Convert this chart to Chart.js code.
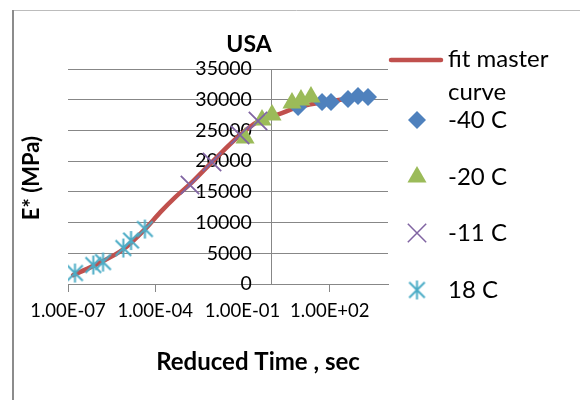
<!DOCTYPE html>
<html>
<head>
<meta charset="utf-8">
<script src="https://cdn.jsdelivr.net/npm/chart.js@4/dist/chart.umd.min.js"></script>
<style>
  html, body { margin: 0; padding: 0; background: #ffffff; }
  #wrap { width: 580px; height: 400px; }
</style>
</head>
<body>
<div id="wrap"><canvas id="c" width="580" height="400"></canvas></div>
<script>
// Texts
const chartTitle = 'USA';
const xAxisTitle = 'Reduced Time , sec';
const yAxisTitle = 'E* (MPa)';

// Axis ticks
const xTickValues = [1e-7, 1e-4, 1e-1, 1e2];
const yTickStep = 5000;
const yAxisCrossesAt = 1;       // vertical axis drawn at t = 1 s
const yLabelAnchor = 0.21;      // right edge of the vertical axis labels

// Fitted master curve (reduced time in s, |E*| in MPa)
const fitTime = [1.5e-7, 7.4e-7, 8.0e-6, 4.4e-5, 1.5e-4, 4.9e-4, 1.56e-3, 8.9e-3, 0.082, 0.34, 1.9, 8.1, 110, 1000, 3000];
const fitModulus = [1450, 2950, 5650, 8900, 11700, 14150, 16250, 19850, 24250, 26450, 27700, 28800, 29800, 30300, 30500];

// Shifted measurements per test temperature
const m40Time = [8.1, 54, 110, 422, 931, 2056];
const m40Modulus = [28820, 29630, 29630, 30120, 30610, 30440];

const m20Time = [0.122, 0.467, 1.03, 5.0, 10.2, 22.5];
const m20Modulus = [23770, 26700, 27510, 29470, 29960, 30440];

const m11Time = [1.56e-3, 8.9e-3, 0.082, 0.34];
const m11Modulus = [16120, 19860, 24260, 26540];

const p18Time = [1.74e-7, 7.4e-7, 1.6e-6, 8.0e-6, 1.47e-5, 4.4e-5];
const p18Modulus = [1790, 3090, 3580, 5860, 7080, 8950];

const seriesLabels = ['fit master curve', '-40 C', '-20 C', '-11 C', '18 C'];

const FONT = 'Lato';
const GRID = '#878787';
const CLEAR = 'rgba(0,0,0,0)';
const RED = '#C0504D', BLUE = '#4F81BD', GREEN = '#9BBB59', PURPLE = '#8064A2', CYAN = '#4BACC6';

function pairs(xs, ys) { return xs.map((x, i) => ({ x: x, y: ys[i] })); }
function sameLog(a, b) { return Math.abs(Math.log10(a) - Math.log10(b)) < 1e-6; }

function sciLabel(v) {
  const e = Math.round(Math.log10(v));
  const m = v / Math.pow(10, e);
  return m.toFixed(2) + 'E' + (e < 0 ? '-' : '+') + String(Math.abs(e)).padStart(2, '0');
}

// Asterisk marker: an X with a vertical stroke
function makeAsterisk(color, r, lw) {
  const s = Math.ceil(2 * r + 4);
  const c = document.createElement('canvas');
  c.width = s; c.height = s;
  const g = c.getContext('2d');
  const m = s / 2, d = r * 0.82;
  g.strokeStyle = color; g.lineWidth = lw;
  g.beginPath();
  g.moveTo(m, m - r); g.lineTo(m, m + r);
  g.moveTo(m - d, m - d); g.lineTo(m + d, m + d);
  g.moveTo(m - d, m + d); g.lineTo(m + d, m - d);
  g.stroke();
  return c;
}
const asterisk = makeAsterisk(CYAN, 9.5, 2);

// Frame, title, axis titles and legend
const decorations = {
  id: 'decorations',
  beforeDraw(chart) {
    const ctx = chart.ctx;
    ctx.save();
    ctx.fillStyle = '#ffffff';
    ctx.fillRect(0, 0, chart.width, chart.height);
    ctx.strokeStyle = '#bcbcbc'; ctx.lineWidth = 1;
    ctx.beginPath(); ctx.moveTo(13, 10.5); ctx.lineTo(580, 10.5); ctx.stroke();
    ctx.strokeStyle = '#8c8c8c'; ctx.lineWidth = 2;
    ctx.beginPath(); ctx.moveTo(13, 10); ctx.lineTo(13, 400); ctx.stroke();
    ctx.restore();
  },
  afterDraw(chart) {
    const ctx = chart.ctx;
    ctx.save();
    ctx.fillStyle = '#000000';
    ctx.textBaseline = 'middle';
    ctx.textAlign = 'center';
    ctx.font = 'bold 23px ' + FONT;
    ctx.fillText(chartTitle, 249, 45);
    ctx.font = 'bold 24px ' + FONT;
    ctx.fillText(xAxisTitle, 258, 362);
    ctx.save();
    ctx.translate(32, 178);
    ctx.rotate(-Math.PI / 2);
    ctx.font = 'bold 22px ' + FONT;
    ctx.fillText(yAxisTitle, 0, 0);
    ctx.restore();

    // Legend
    const mx = 417, tx = 448;
    ctx.textAlign = 'left';
    ctx.font = '24px ' + FONT;
    ctx.strokeStyle = RED; ctx.lineWidth = 4.5; ctx.lineCap = 'round';
    ctx.beginPath(); ctx.moveTo(391, 60); ctx.lineTo(441, 60); ctx.stroke();
    ctx.fillText('fit master', tx, 59);
    ctx.fillText('curve', tx, 92);
    const rows = [120, 177, 233, 290];
    const ds = chart.data.datasets;
    for (let i = 1; i < ds.length; i++) {
      const y = rows[i - 1];
      const o = ds[i];
      ctx.lineCap = 'butt';
      if (o.pointStyle === 'rectRot') {
        ctx.fillStyle = o.pointBackgroundColor;
        const r = o.pointRadius;
        ctx.beginPath(); ctx.moveTo(mx - r, y); ctx.lineTo(mx, y - r); ctx.lineTo(mx + r, y); ctx.lineTo(mx, y + r); ctx.closePath(); ctx.fill();
      } else if (o.pointStyle === 'triangle') {
        ctx.fillStyle = o.pointBackgroundColor;
        const r = o.pointRadius;
        ctx.beginPath(); ctx.moveTo(mx, y - r); ctx.lineTo(mx + r * 0.866, y + r * 0.5); ctx.lineTo(mx - r * 0.866, y + r * 0.5); ctx.closePath(); ctx.fill();
      } else if (o.pointStyle === 'crossRot') {
        ctx.strokeStyle = o.pointBorderColor; ctx.lineWidth = 1.5;
        const d = o.pointRadius * Math.SQRT1_2;
        ctx.beginPath(); ctx.moveTo(mx - d, y - d); ctx.lineTo(mx + d, y + d); ctx.moveTo(mx - d, y + d); ctx.lineTo(mx + d, y - d); ctx.stroke();
      } else {
        ctx.drawImage(asterisk, mx - asterisk.width / 2, y - asterisk.height / 2);
      }
      ctx.fillStyle = '#000000';
      ctx.fillText(o.label, tx, y);
    }
    ctx.restore();
  }
};

new Chart(document.getElementById('c'), {
  type: 'scatter',
  data: {
    datasets: [
      {
        label: seriesLabels[0], data: pairs(fitTime, fitModulus), showLine: true,
        borderColor: RED, borderWidth: 4.5, pointRadius: 0, cubicInterpolationMode: 'monotone',
        borderCapStyle: 'round', order: 4
      },
      {
        label: seriesLabels[1], data: pairs(m40Time, m40Modulus), pointStyle: 'rectRot',
        pointRadius: 9, pointBackgroundColor: BLUE, pointBorderColor: BLUE, pointBorderWidth: 0, order: 3
      },
      {
        label: seriesLabels[2], data: pairs(m20Time, m20Modulus), pointStyle: 'triangle',
        pointRadius: 11, pointBackgroundColor: GREEN, pointBorderColor: GREEN, pointBorderWidth: 0, order: 2
      },
      {
        label: seriesLabels[3], data: pairs(m11Time, m11Modulus), pointStyle: 'crossRot',
        pointRadius: 13, pointBackgroundColor: PURPLE, pointBorderColor: PURPLE, pointBorderWidth: 1.8, order: 1
      },
      {
        label: seriesLabels[4], data: pairs(p18Time, p18Modulus), pointStyle: asterisk,
        pointRadius: 9.5, pointBackgroundColor: CYAN, pointBorderColor: CYAN, order: 0
      }
    ]
  },
  options: {
    responsive: false,
    animation: false,
    devicePixelRatio: 1,
    layout: { padding: { left: 68, right: 192, top: 69, bottom: 0 } },
    plugins: { legend: { display: false }, tooltip: { enabled: false }, title: { display: false } },
    scales: {
      x: {
        type: 'logarithmic', position: 'bottom', min: 1e-7, max: 1e4,
        afterBuildTicks(scale) { scale.ticks = xTickValues.map(v => ({ value: v, major: false })); },
        afterFit(scale) { scale.height = 116; },
        ticks: {
          autoSkip: false, maxRotation: 0, minRotation: 0, padding: 8, color: '#000000',
          font: { family: FONT, size: 18.5 },
          callback: (v) => sciLabel(v)
        },
        grid: {
          drawOnChartArea: false, drawTicks: true, tickLength: 8,
          tickColor: (c) => (c.tick && sameLog(c.tick.value, 0.1)) ? CLEAR : GRID
        },
        border: { color: GRID, width: 1 }
      },
      // Gridlines and the vertical axis line, crossing at t = 1 s
      y: {
        type: 'linear', min: 0, max: 35000,
        position: { x: yAxisCrossesAt },
        ticks: { stepSize: yTickStep, display: false },
        grid: { color: GRID, lineWidth: 1, drawTicks: false },
        border: { color: GRID, width: 1 }
      },
      // Tick labels of the vertical axis, set a little left of the axis line
      yLabels: {
        type: 'linear', axis: 'y', min: 0, max: 35000,
        position: { x: yLabelAnchor },
        ticks: {
          stepSize: yTickStep, color: '#000000',
          font: { family: FONT, size: 19.5 },
          callback: (v) => String(v)
        },
        grid: { display: false, drawTicks: false },
        border: { display: false }
      }
    }
  },
  plugins: [decorations]
});
</script>
</body>
</html>
